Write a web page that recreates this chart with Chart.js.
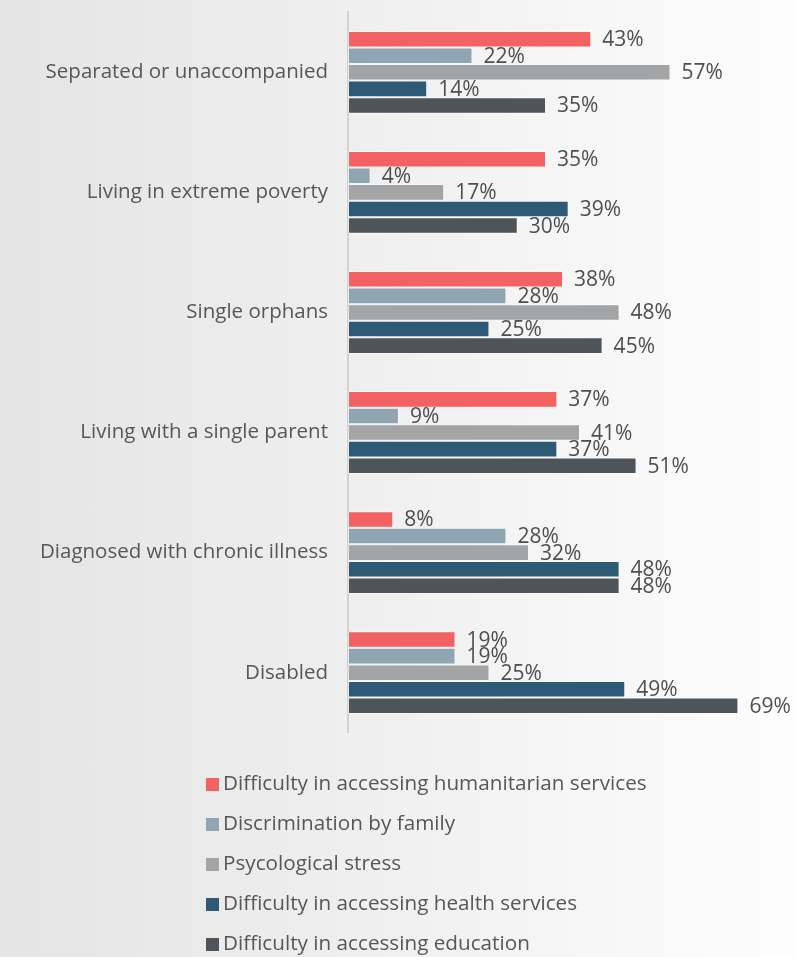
<!DOCTYPE html>
<html>
<head>
<meta charset="utf-8">
<script src="https://cdn.jsdelivr.net/npm/chart.js@4"></script>
<style>
  html, body {
    margin: 0;
    padding: 0;
    width: 795px;
    height: 957px;
    overflow: hidden;
    background: linear-gradient(to right, #e4e4e4 0%, #efefef 45%, #fdfdfd 100%);
    font-family: "Open Sans", sans-serif;
  }
  #wrap {
    position: absolute;
    left: 0;
    top: -20px;
    width: 795px;
    height: 785px;
  }
  #legend {
    position: absolute;
    left: 206px;
    top: 762px;
    margin: 0;
    padding: 0;
    list-style: none;
  }
  #legend li {
    height: 40px;
    line-height: 40px;
    font-size: 20.7px;
    color: #555759;
    white-space: nowrap;
  }
  #legend span {
    display: inline-block;
    width: 13px;
    height: 13px;
    margin-right: 4px;
    vertical-align: -1px;
  }
</style>
</head>
<body>
<div id="wrap"><canvas id="groupChart"></canvas></div>
<ul id="legend"></ul>
<script>
const categories = [
    'Separated or unaccompanied',
    'Living in extreme poverty',
    'Single orphans',
    'Living with a single parent',
    'Diagnosed with chronic illness',
    'Disabled'
];

const seriesNames = [
    'Difficulty in accessing humanitarian services',
    'Discrimination by family',
    'Psycological stress',
    'Difficulty in accessing health services',
    'Difficulty in accessing education'
];

const humanitarian = [43, 35, 38, 37, 8, 19];
const discrimination = [22, 4, 28, 9, 28, 19];
const stress = [57, 17, 48, 41, 32, 25];
const health = [14, 39, 25, 37, 48, 49];
const education = [35, 30, 45, 51, 48, 69];

const colors = ['#f26262', '#8fa5b2', '#a3a4a6', '#2e5a75', '#4f5458'];

const values = [humanitarian, discrimination, stress, health, education];

// percent labels just past the end of each bar
const valueLabels = {
    id: 'valueLabels',
    afterDatasetsDraw(chart) {
        const ctx = chart.ctx;
        ctx.save();
        ctx.font = '21px "Open Sans"';
        ctx.fillStyle = '#4d4f51';
        ctx.textAlign = 'left';
        ctx.textBaseline = 'middle';
        chart.data.datasets.forEach((ds, i) => {
            chart.getDatasetMeta(i).data.forEach((bar, j) => {
                ctx.fillText(ds.data[j] + '%', bar.x + 11, bar.y + 1);
            });
        });
        ctx.restore();
    }
};

const ctx = document.getElementById('groupChart').getContext('2d');
const groupChart = new Chart(ctx, {
    type: 'bar',
    data: {
        labels: categories,
        datasets: seriesNames.map((name, i) => ({
            label: name,
            data: values[i],
            backgroundColor: colors[i],
            borderColor: 'rgba(255,255,255,0.45)',
            borderWidth: 1,
            borderSkipped: false,
            categoryPercentage: 0.69,
            barPercentage: 1
        }))
    },
    options: {
        indexAxis: 'y',
        responsive: true,
        maintainAspectRatio: false,
        animation: false,
        layout: {
            padding: { top: 10, bottom: 10, left: 0, right: 0 }
        },
        plugins: {
            legend: { display: false },
            tooltip: { enabled: false }
        },
        scales: {
            x: {
                display: false,
                min: 0,
                max: 79
            },
            y: {
                afterFit(scale) {
                    scale.width = 348;
                },
                grid: { display: false, drawTicks: false },
                border: { display: true, color: '#d2d2d2', width: 2 },
                ticks: {
                    color: '#555759',
                    padding: 20,
                    font: { family: 'Open Sans', size: 20.5 }
                }
            }
        }
    },
    plugins: [valueLabels]
});

// legend list, one series per row
const legend = document.getElementById('legend');
seriesNames.forEach((name, i) => {
    const li = document.createElement('li');
    const box = document.createElement('span');
    box.style.background = colors[i];
    li.appendChild(box);
    li.appendChild(document.createTextNode(name));
    legend.appendChild(li);
});
</script>
</body>
</html>
